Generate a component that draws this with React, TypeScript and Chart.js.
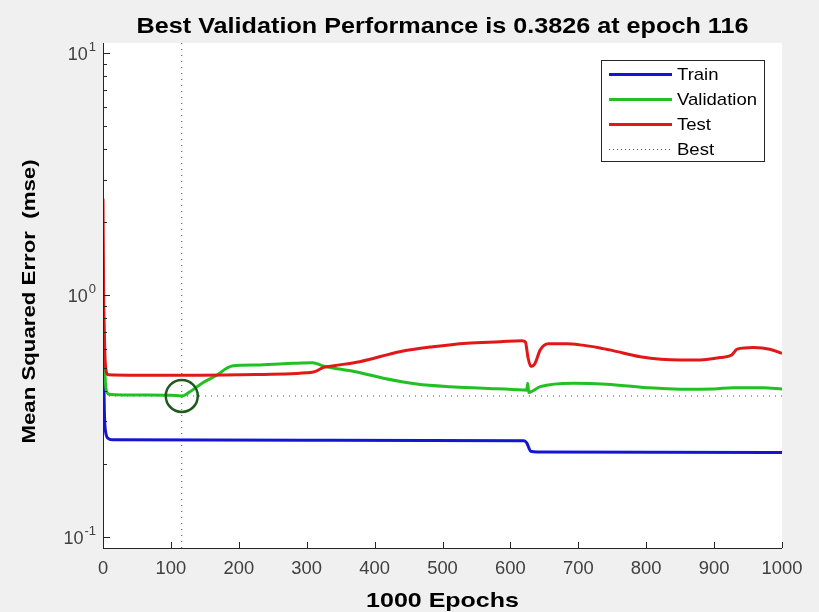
import { useEffect, useRef } from "react";
import { Chart, registerables } from "chart.js";

Chart.register(...registerables);

// ---------- data ----------
const TITLE = "Best Validation Performance is 0.3826 at epoch 116";
const X_LABEL = "1000 Epochs";
const Y_LABEL = "Mean Squared Error  (mse)";

const BEST_EPOCH = 116;
const BEST_PERF = 0.3826;

const X_MIN = 0;
const X_MAX = 1000;
const Y_MIN = 0.09;
const Y_MAX = 11;

const X_TICKS = [0, 100, 200, 300, 400, 500, 600, 700, 800, 900, 1000];
const Y_MAJOR_EXPONENTS = [-1, 0, 1];

const TRAIN_EPOCHS = [0, 1, 2, 4, 8, 15, 300, 620, 624, 630, 640, 1000];
const TRAIN_MSE = [0.9, 0.5, 0.33, 0.27, 0.255, 0.252, 0.251, 0.25, 0.245, 0.226, 0.2245, 0.2235];

const VAL_EPOCHS = [
  0, 1, 2, 4, 7, 10, 60, 100, 116, 128, 147, 168, 182, 190, 231, 280, 309, 324, 370, 413, 462,
  511, 560, 619, 624, 625.5, 627, 632, 644, 693, 742, 801, 850, 899, 928, 972, 1000,
];
const VAL_MSE = [
  1.2, 0.8, 0.55, 0.42, 0.392, 0.388, 0.386, 0.385, 0.3826, 0.398, 0.434, 0.467, 0.498, 0.509,
  0.514, 0.522, 0.525, 0.509, 0.483, 0.453, 0.429, 0.418, 0.412, 0.405, 0.404, 0.432, 0.395, 0.4,
  0.418, 0.432, 0.428, 0.414, 0.408, 0.409, 0.414, 0.414, 0.409,
];

const TEST_EPOCHS = [
  0, 1, 2, 3, 5, 8, 50, 100, 200, 300, 312, 325, 340, 378, 437, 486, 536, 585, 617, 622, 626, 630,
  636, 644, 656, 683, 702, 732, 751, 791, 850, 879, 909, 926, 934, 958, 982, 1000,
];
const TEST_MSE = [
  2.5, 0.95, 0.7, 0.55, 0.48, 0.468, 0.466, 0.466, 0.468, 0.477, 0.482, 0.502, 0.51, 0.53, 0.583,
  0.611, 0.632, 0.641, 0.647, 0.64, 0.55, 0.507, 0.52, 0.593, 0.628, 0.628, 0.622, 0.604, 0.589,
  0.556, 0.539, 0.539, 0.551, 0.565, 0.597, 0.606, 0.597, 0.574,
];

const LEGEND_LABELS = ["Train", "Validation", "Test", "Best"];

// ---------- styling ----------
const FONT = '"Liberation Sans", Arial, Helvetica, sans-serif';
const C_TRAIN = "#1414d2";
const C_VAL = "#22c022";
const C_TEST = "#e01818";
const C_BEST = "#4a4a4a";
const C_CIRCLE = "#1e5a1e";
const C_AXIS = "#262626";
const C_TICKTEXT = "#404040";

const toXY = (xs: number[], ys: number[]) => xs.map((x, i) => ({ x, y: ys[i] }));

function stretchText(
  ctx: CanvasRenderingContext2D,
  text: string,
  x: number,
  y: number,
  sx: number,
  rotate = 0
) {
  ctx.save();
  ctx.translate(x, y);
  if (rotate) ctx.rotate(rotate);
  ctx.scale(sx, 1);
  ctx.fillText(text, 0, 0);
  ctx.restore();
}

const decorPlugin = {
  id: "decor",
  beforeDraw(chart: any) {
    const { ctx, chartArea: a, width, height } = chart;
    ctx.save();
    ctx.fillStyle = "#f0f0f0";
    ctx.fillRect(0, 0, width, height);
    ctx.fillStyle = "#ffffff";
    ctx.fillRect(a.left, a.top, a.right - a.left, a.bottom - a.top);
    ctx.restore();
  },
  afterDraw(chart: any) {
    const { ctx, chartArea: a } = chart;
    const xs = chart.scales.x;
    const ys = chart.scales.y;
    ctx.save();
    // axis lines
    ctx.strokeStyle = C_AXIS;
    ctx.lineWidth = 1;
    ctx.beginPath();
    ctx.moveTo(a.left + 0.5, a.top);
    ctx.lineTo(a.left + 0.5, a.bottom + 0.5);
    ctx.lineTo(a.right, a.bottom + 0.5);
    // x ticks (inward)
    X_TICKS.forEach((v) => {
      const px = Math.round(xs.getPixelForValue(v)) + 0.5;
      ctx.moveTo(px, a.bottom);
      ctx.lineTo(px, a.bottom - 6);
    });
    // y ticks (log, inward)
    for (let e = -2; e <= 1; e++) {
      for (let m = 1; m <= 9; m++) {
        const v = m * Math.pow(10, e);
        if (v < Y_MIN || v > Y_MAX) continue;
        const py = Math.round(ys.getPixelForValue(v)) + 0.5;
        ctx.moveTo(a.left, py);
        ctx.lineTo(a.left + (m === 1 ? 7 : 4), py);
      }
    }
    ctx.stroke();

    // x tick labels
    ctx.fillStyle = C_TICKTEXT;
    ctx.font = `17.5px ${FONT}`;
    ctx.textAlign = "center";
    ctx.textBaseline = "middle";
    X_TICKS.forEach((v) => {
      stretchText(ctx, String(v), xs.getPixelForValue(v), a.bottom + 21, 1.05);
    });

    // y tick labels 10^n
    Y_MAJOR_EXPONENTS.forEach((e) => {
      const py = ys.getPixelForValue(Math.pow(10, e));
      const sup = String(e);
      ctx.font = `13px ${FONT}`;
      const w2 = ctx.measureText(sup).width;
      ctx.font = `18px ${FONT}`;
      const w1 = ctx.measureText("10").width;
      const right = a.left - 7;
      ctx.textAlign = "left";
      ctx.textBaseline = "middle";
      ctx.fillText("10", right - w2 - w1 - 1, py + 2);
      ctx.font = `13px ${FONT}`;
      ctx.fillText(sup, right - w2, py - 6);
    });

    // title
    const cx = (a.left + a.right) / 2;
    ctx.fillStyle = "#000";
    ctx.font = `bold 22px ${FONT}`;
    ctx.textAlign = "center";
    ctx.textBaseline = "middle";
    stretchText(ctx, TITLE, cx, 27, 1.145);

    // x label
    ctx.font = `bold 21px ${FONT}`;
    stretchText(ctx, X_LABEL, cx, a.bottom + 53, 1.19);

    // y label
    ctx.font = `bold 19px ${FONT}`;
    stretchText(ctx, Y_LABEL, 30, (a.top + a.bottom) / 2 + 6, 1.17, -Math.PI / 2);

    // legend
    const lx = 601, ly = 60, lw = 163, lh = 101;
    ctx.fillStyle = "#fff";
    ctx.fillRect(lx, ly, lw, lh);
    ctx.strokeStyle = C_AXIS;
    ctx.lineWidth = 1;
    ctx.strokeRect(lx + 0.5, ly + 0.5, lw, lh);
    const colors = [C_TRAIN, C_VAL, C_TEST, C_BEST];
    LEGEND_LABELS.forEach((label, i) => {
      const y = ly + 14 + i * 25;
      ctx.beginPath();
      if (i < 3) {
        ctx.setLineDash([]);
        ctx.lineWidth = 3;
      } else {
        ctx.setLineDash([1, 3]);
        ctx.lineWidth = 1;
      }
      ctx.strokeStyle = colors[i];
      ctx.moveTo(lx + 8, y + 0.5);
      ctx.lineTo(lx + 71, y + 0.5);
      ctx.stroke();
      ctx.setLineDash([]);
      ctx.fillStyle = "#000";
      ctx.font = `17px ${FONT}`;
      ctx.textAlign = "left";
      ctx.textBaseline = "middle";
      stretchText(ctx, label, lx + 76, y + 1, 1.09);
    });
    ctx.restore();
  },
};

export default function App() {
  const ref = useRef<HTMLCanvasElement | null>(null);

  useEffect(() => {
    if (!ref.current) return;
    const lineCommon = {
      pointRadius: 0,
      borderWidth: 3,
      cubicInterpolationMode: "monotone" as const,
      fill: false,
    };
    const chart = new Chart(ref.current, {
      type: "line",
      data: {
        datasets: [
          {
            label: "BestCircle",
            data: [{ x: BEST_EPOCH, y: BEST_PERF }],
            showLine: false,
            pointRadius: 16,
            pointBorderWidth: 2.5,
            pointBorderColor: C_CIRCLE,
            pointBackgroundColor: "rgba(0,0,0,0)",
            order: 0,
          },
          { label: "Test", data: toXY(TEST_EPOCHS, TEST_MSE), borderColor: C_TEST, ...lineCommon, order: 1 },
          { label: "Validation", data: toXY(VAL_EPOCHS, VAL_MSE), borderColor: C_VAL, ...lineCommon, order: 2 },
          { label: "Train", data: toXY(TRAIN_EPOCHS, TRAIN_MSE), borderColor: C_TRAIN, ...lineCommon, order: 3 },
          {
            label: "Best",
            data: [
              { x: BEST_EPOCH, y: Y_MIN },
              { x: BEST_EPOCH, y: Y_MAX },
            ],
            borderColor: C_BEST,
            borderWidth: 1,
            borderDash: [1, 5],
            pointRadius: 0,
            order: 4,
          },
          {
            label: "BestH",
            data: [
              { x: X_MIN, y: BEST_PERF },
              { x: X_MAX, y: BEST_PERF },
            ],
            borderColor: C_BEST,
            borderWidth: 1,
            borderDash: [1, 5],
            pointRadius: 0,
            order: 5,
          },
        ],
      },
      options: {
        animation: false,
        responsive: false,
        parsing: false as any,
        layout: { padding: { left: 0, top: 43, right: 37, bottom: 0 } },
        plugins: { legend: { display: false }, title: { display: false }, tooltip: { enabled: false } },
        scales: {
          x: {
            type: "linear",
            min: X_MIN,
            max: X_MAX,
            grid: { display: false, drawTicks: false },
            border: { display: false },
            ticks: { display: false },
            afterFit: (s: any) => {
              s.height = 64;
            },
          },
          y: {
            type: "logarithmic",
            min: Y_MIN,
            max: Y_MAX,
            grid: { display: false, drawTicks: false },
            border: { display: false },
            ticks: { display: false },
            afterFit: (s: any) => {
              s.width = 103;
            },
          },
        },
      },
      plugins: [decorPlugin],
    });
    return () => chart.destroy();
  }, []);

  return (
    <div style={{ position: "fixed", left: 0, top: 0, width: 819, height: 612 }}>
      <canvas ref={ref} width={819} height={612} style={{ width: 819, height: 612, display: "block" }} />
    </div>
  );
}
